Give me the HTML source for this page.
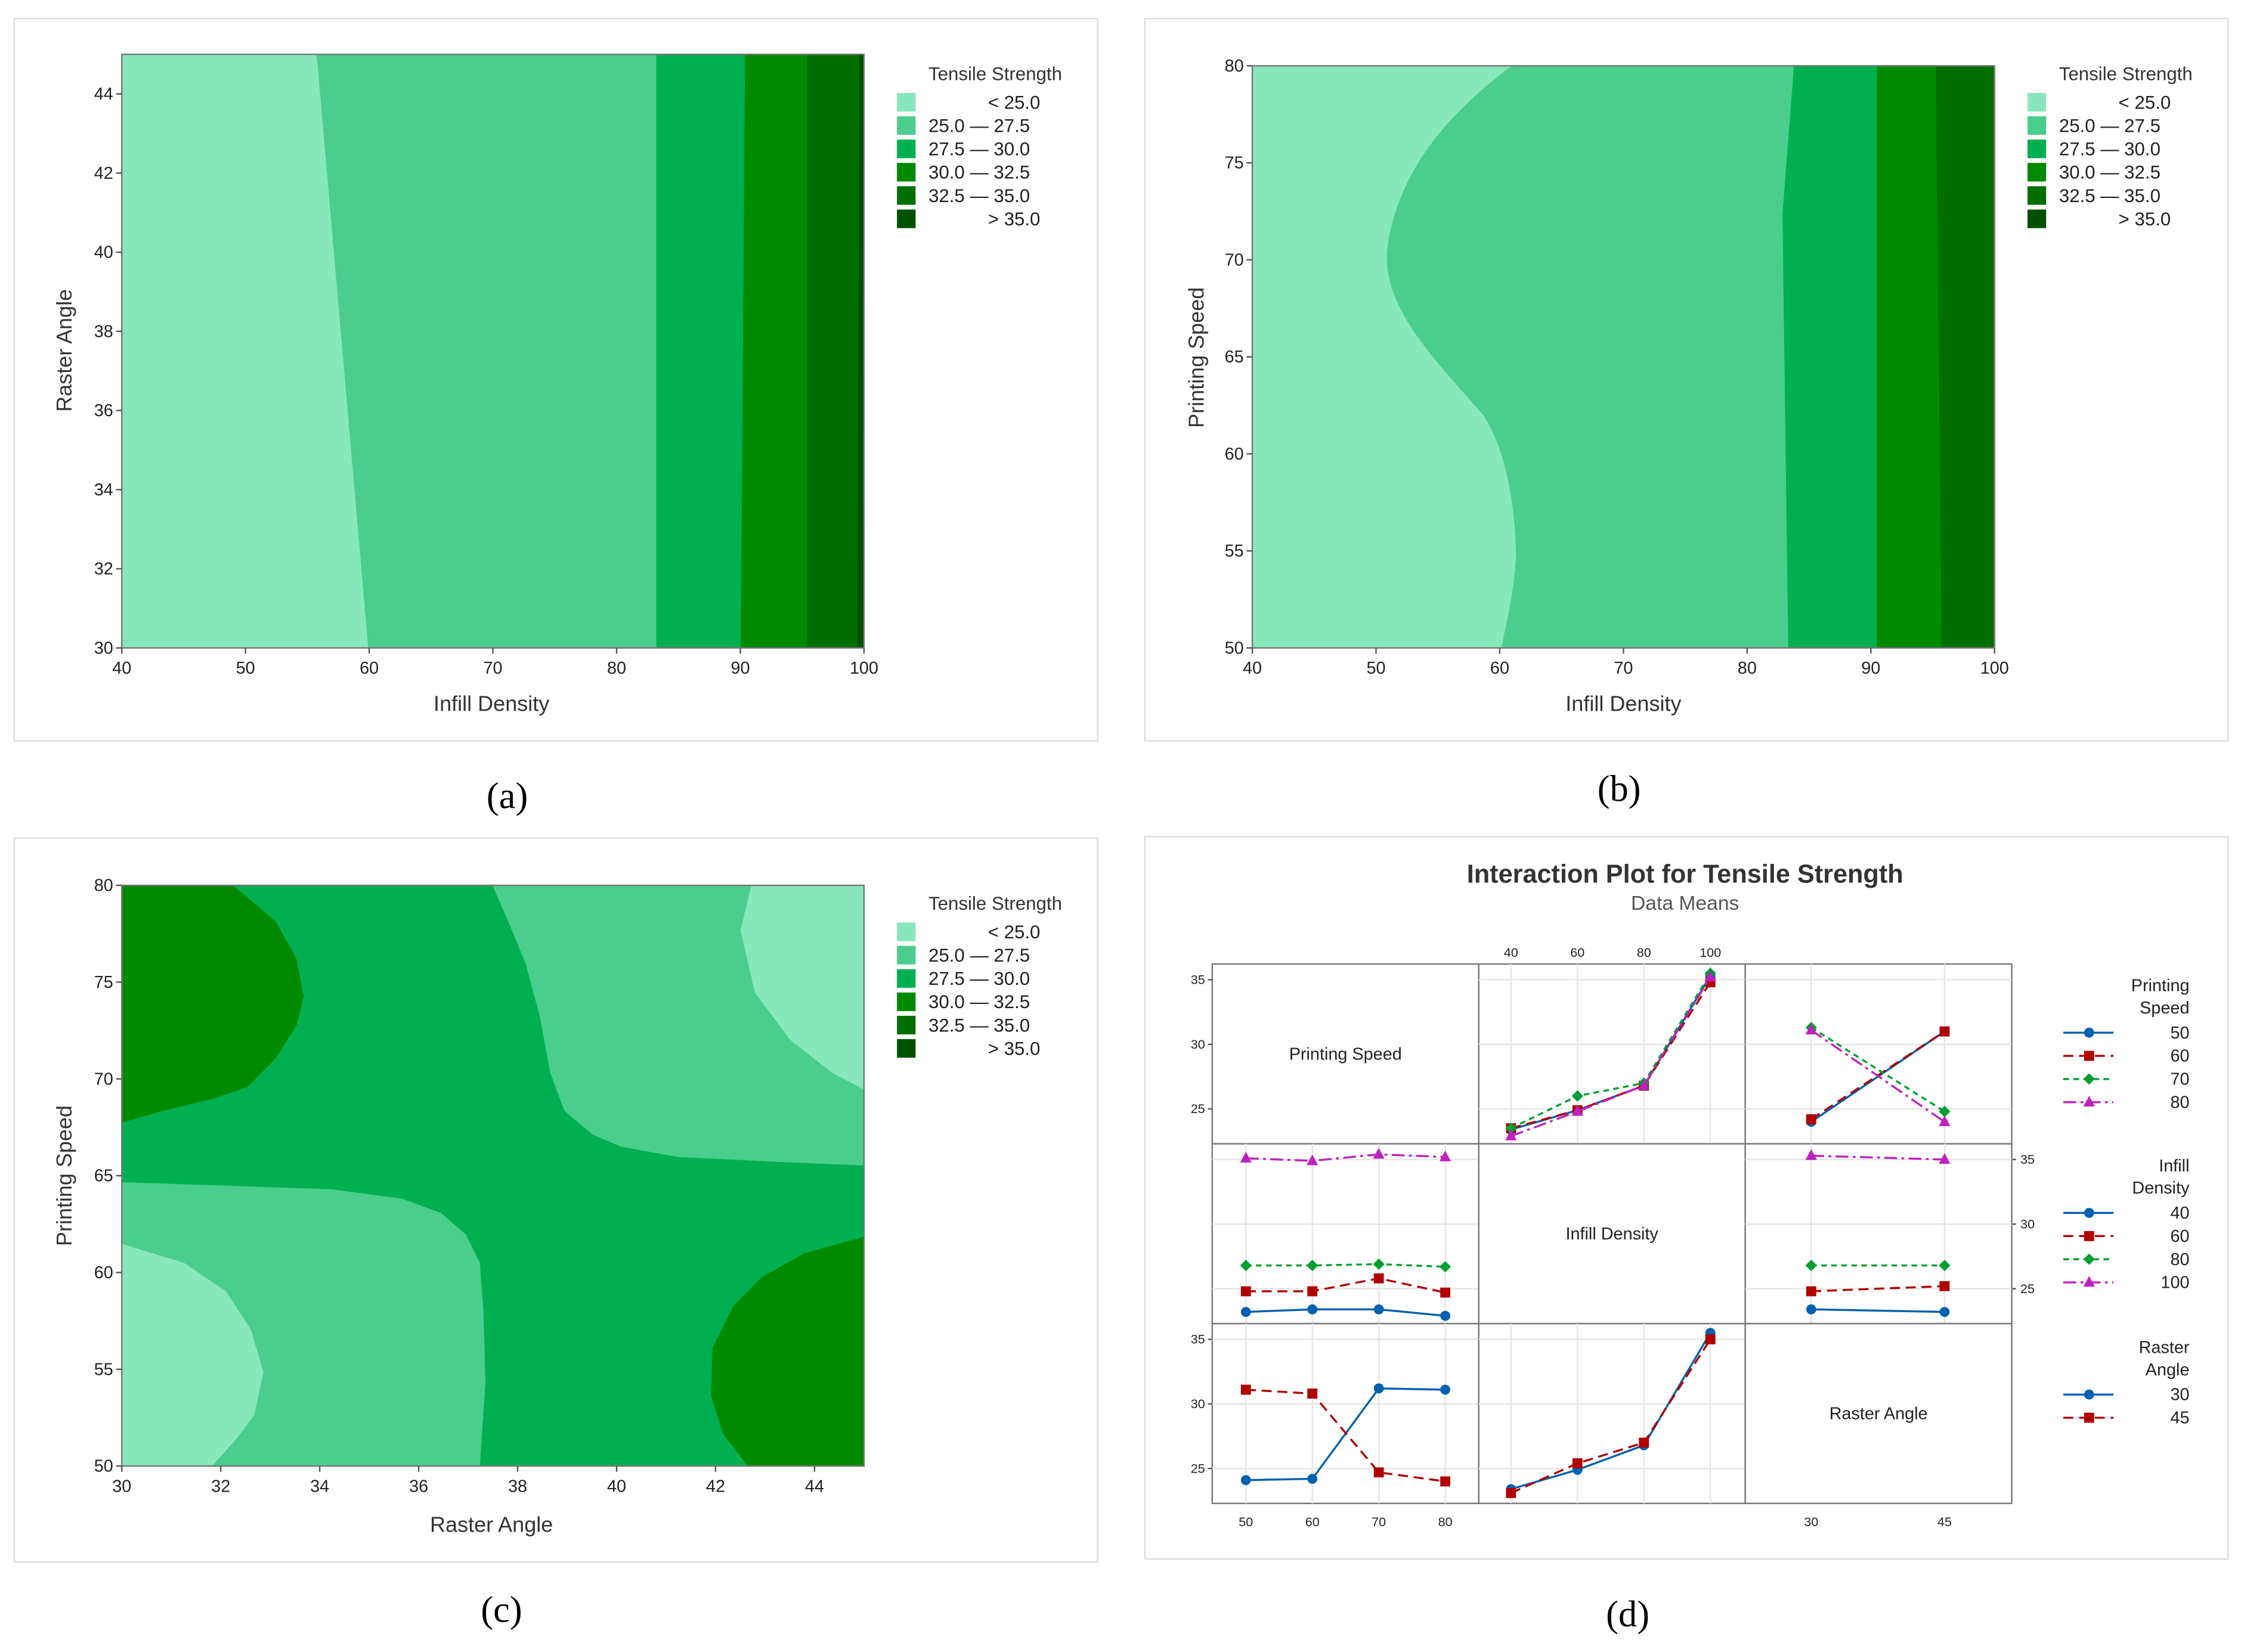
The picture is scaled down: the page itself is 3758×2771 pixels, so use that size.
<!DOCTYPE html>
<html><head><meta charset="utf-8"><style>
html,body{margin:0;padding:0;background:#fff}
svg{display:block;font-family:"Liberation Sans",sans-serif}
</style></head><body>
<svg id="root" width="3758" height="2771" viewBox="0 0 1564 1155" preserveAspectRatio="none" xmlns="http://www.w3.org/2000/svg">
<defs>
<clipPath id="ca"><rect x="85" y="38" width="518" height="415"/></clipPath>
<clipPath id="cb"><rect x="874" y="46" width="518" height="407"/></clipPath>
<clipPath id="cc"><rect x="85" y="619" width="518" height="406"/></clipPath>
</defs>
<rect width="1564" height="1155" fill="#fff"/>
<!-- Panel a -->
<g>
<rect x="10" y="13" width="756" height="505" fill="#fff" stroke="#ddd"/>
<g clip-path="url(#ca)">
<rect x="85" y="38" width="518" height="415" fill="#4bce8c"/>
<polygon points="85,38 221,38 257,453 85,453" fill="#89e7bd"/>
<polygon points="458,38 603,38 603,453 458,453" fill="#00b050"/>
<polygon points="520,38 603,38 603,453 517,453" fill="#008a00"/>
<polygon points="563,38 603,38 603,453 563,453" fill="#006f00"/>
<polygon points="600,38 603,38 603,453 598,453" fill="#005000"/>
</g>
<rect x="85" y="38" width="518" height="415" fill="none" stroke="#777"/>
<g id="axa" font-size="12" fill="#222"></g>
<text x="343" y="497" font-size="15" text-anchor="middle" fill="#333">Infill Density</text>
<text transform="translate(50,245) rotate(-90)" font-size="15" text-anchor="middle" fill="#333">Raster Angle</text>
<g id="lga"></g>
<text x="354" y="565" font-size="26" text-anchor="middle" font-family="Liberation Serif,serif">(a)</text>
</g>
<!-- Panel b -->
<g>
<rect x="799" y="13" width="756" height="505" fill="#fff" stroke="#ddd"/>
<g clip-path="url(#cb)">
<rect x="874" y="46" width="518" height="407" fill="#4bce8c"/>
<path d="M874,46 L1055,46 C1010,80 975,120 968,175 C965,215 1000,250 1035,290 C1055,320 1058,370 1058,390 C1056,420 1050,440 1048,453 L874,453 Z" fill="#89e7bd"/>
<path d="M1252,46 L1392,46 L1392,453 L1248,453 L1246,300 L1244,150 Z" fill="#00b050"/>
<path d="M1310,46 L1392,46 L1392,453 L1310,453 Z" fill="#008a00"/>
<path d="M1351,46 L1392,46 L1392,453 L1355,453 Z" fill="#006f00"/>
</g>
<rect x="874" y="46" width="518" height="407" fill="none" stroke="#777"/>
<g id="axb" font-size="12" fill="#222"></g>
<text x="1133" y="497" font-size="15" text-anchor="middle" fill="#333">Infill Density</text>
<text transform="translate(840,250) rotate(-90)" font-size="15" text-anchor="middle" fill="#333">Printing Speed</text>
<g id="lgb"></g>
<text x="1130" y="560" font-size="26" text-anchor="middle" font-family="Liberation Serif,serif">(b)</text>
</g>
<!-- Panel c -->
<g>
<rect x="10" y="586" width="756" height="506" fill="#fff" stroke="#ddd"/>
<g clip-path="url(#cc)">
<rect x="85" y="619" width="518" height="406" fill="#00b050"/>
<g transform="translate(85,619) scale(0.4919,0.332) translate(-172,-105)">
<path d="M698,105 L720,180 L745,270 L765,380 L780,500 L800,580 L840,630 L880,655 L960,677 L1100,687 L1225,695 L1225,105 Z" fill="#4bce8c"/>
<path d="M1065,105 L1050,200 L1070,330 L1120,430 L1180,500 L1225,535 L1225,105 Z" fill="#89e7bd"/>
<path d="M172,105 L330,105 L390,180 L420,260 L430,340 L420,400 L390,470 L350,530 L300,555 L230,580 L172,605 Z" fill="#008a00"/>
<path d="M172,730 L470,745 L570,765 L625,795 L660,840 L680,900 L685,1000 L688,1150 L680,1328 L172,1328 Z" fill="#4bce8c"/>
<path d="M172,860 L260,900 L320,960 L355,1040 L373,1130 L360,1220 L335,1270 L300,1328 L172,1328 Z" fill="#89e7bd"/>
<path d="M1225,845 L1140,880 L1080,930 L1040,990 L1010,1080 L1008,1180 L1025,1260 L1060,1328 L1225,1328 Z" fill="#008a00"/>
</g>
</g>
<rect x="85" y="619" width="518" height="406" fill="none" stroke="#777"/>
<g id="axc" font-size="12" fill="#222"></g>
<text x="343" y="1071" font-size="15" text-anchor="middle" fill="#333">Raster Angle</text>
<text transform="translate(50,822) rotate(-90)" font-size="15" text-anchor="middle" fill="#333">Printing Speed</text>
<g id="lgc"></g>
<text x="350" y="1134" font-size="26" text-anchor="middle" font-family="Liberation Serif,serif">(c)</text>
</g>
<!-- Panel d -->
<g>
<rect x="799" y="585" width="756" height="505" fill="#fff" stroke="#ddd"/>
<text x="1176" y="617" font-size="18" font-weight="bold" text-anchor="middle" fill="#333">Interaction Plot for Tensile Strength</text>
<text x="1176" y="636" font-size="14" text-anchor="middle" fill="#555">Data Means</text>
<g id="pd"></g>
<text x="1136" y="1137" font-size="26" text-anchor="middle" font-family="Liberation Serif,serif">(d)</text>
</g>
</svg>
<script>
// ---- contour legend & axes data ----
const legendLabels = ["< 25.0","25.0 — 27.5","27.5 — 30.0","30.0 — 32.5","32.5 — 35.0","> 35.0"];
const legendColors = ["#89e7bd","#4bce8c","#00b050","#008a00","#006f00","#005000"];
const infillTicks = [40,50,60,70,80,90,100];
const rasterTicksA = [30,32,34,36,38,40,42,44];
const speedTicks = [50,55,60,65,70,75,80];
const rasterTicksC = [30,32,34,36,38,40,42,44];

// ---- interaction plot data ----
const speedLevels = [50,60,70,80];
const infillLevels = [40,60,80,100];
const rasterLevels = [30,45];
// Row1 col2: x=infill, series=speed
const r1c2_s50 = [23.4,24.9,26.8,35.3];
const r1c2_s60 = [23.5,24.9,26.8,34.8];
const r1c2_s70 = [23.5,26.0,27.0,35.5];
const r1c2_s80 = [22.9,24.8,26.8,35.2];
// Row1 col3: x=raster, series=speed
const r1c3_s50 = [24.0,31.0];
const r1c3_s60 = [24.2,31.0];
const r1c3_s70 = [31.3,24.8];
const r1c3_s80 = [31.1,24.0];
// Row2 col1: x=speed, series=infill
const r2c1_i40 = [23.2,23.4,23.4,22.9];
const r2c1_i60 = [24.8,24.8,25.8,24.7];
const r2c1_i80 = [26.8,26.8,26.9,26.7];
const r2c1_i100 = [35.1,34.9,35.4,35.2];
// Row2 col3: x=raster, series=infill
const r2c3_i40 = [23.4,23.2];
const r2c3_i60 = [24.8,25.2];
const r2c3_i80 = [26.8,26.8];
const r2c3_i100 = [35.3,35.0];
// Row3 col1: x=speed, series=raster
const r3c1_r30 = [24.1,24.2,31.2,31.1];
const r3c1_r45 = [31.1,30.8,24.7,24.0];
// Row3 col2: x=infill, series=raster
const r3c2_r30 = [23.4,24.9,26.8,35.5];
const r3c2_r45 = [23.1,25.4,27.0,35.0];
const yTicksD = [25,30,35];

const NS="http://www.w3.org/2000/svg";
function mk(tag,attrs,parent,txt){const e=document.createElementNS(NS,tag);for(const k in attrs)e.setAttribute(k,attrs[k]);if(txt!==undefined)e.textContent=txt;parent.appendChild(e);return e;}

function contourAxes(gid,x0,x1,y0,y1,xt,xmin,xmax,yt,ymin,ymax){
  const g=document.getElementById(gid);
  xt.forEach(v=>{const x=x0+(v-xmin)/(xmax-xmin)*(x1-x0);
    const l=mk('line',{x1:x,x2:x,y1:y1,y2:y1+4,stroke:'#555'},g);
    
    const t=mk('text',{x:x,y:y1+18,'text-anchor':'middle'},g,v);
    });
  yt.forEach(v=>{const y=y1-(v-ymin)/(ymax-ymin)*(y1-y0);
    const l=mk('line',{x1:x0-4,x2:x0,y1:y,y2:y,stroke:'#555'},g);
    
    const t=mk('text',{x:x0-6,y:y+4,'text-anchor':'end'},g,v);
    });
}
contourAxes('axa',85,603,38,453,infillTicks,40,100,rasterTicksA,30,45);
contourAxes('axb',874,1392,46,453,infillTicks,40,100,speedTicks,50,80);
contourAxes('axc',85,603,619,1025,rasterTicksC,30,45,speedTicks,50,80);

function contourLegend(gid,sx,ty){
  const g=document.getElementById(gid);
  
  mk('text',{x:sx+22,y:ty,'font-size':13,fill:'#333'},g,'Tensile Strength');
  legendLabels.forEach((lab,i)=>{const y=ty+15+i*16.3;
    const r=mk('rect',{x:sx,y:y-6,width:13,height:13,fill:legendColors[i]},g);
    
    const t=(i==0||i==5)?mk('text',{x:sx+100,y:y+5,'font-size':13,'text-anchor':'end',fill:'#222'},g,lab):mk('text',{x:sx+22,y:y+5,'font-size':13,fill:'#222'},g,lab);
    });
}
contourLegend('lga',626,56);
contourLegend('lgb',1415,56);
contourLegend('lgc',626,636);

// ---- panel d ----
const pd=document.getElementById('pd');
const GX=846,GY=674,CW=186,CH=125.7;
const st=[{c:'#0060b0',d:'',m:'circle'},{c:'#b00000',d:'7,4',m:'square'},{c:'#00a030',d:'4,3',m:'diamond'},{c:'#c020c0',d:'9,3,2,3',m:'tri'}];
function colX(col,v){
  if(col==0) return GX+ (141-93)*0.4899 + (v-50)/30*(425-141)*0.4899;
  if(col==1) return GX+CW+(519-473)*0.4899 + (v-40)/60*(803-519)*0.4899;
  return GX+2*CW+(947-853)*0.4899 + (v-30)/15*(1137-947)*0.4899;
}
function rowY(row,v){return GY+row*CH+11+(35-v)*9.03;}
// grid cells
for(let r=0;r<3;r++)for(let c=0;c<3;c++){
  const cell=mk('rect',{x:GX+c*CW,y:GY+r*CH,width:CW,height:CH,fill:'#fff',stroke:'#777'},pd);
  
  if(r===c) continue;
  const lv=c==0?speedLevels:c==1?infillLevels:rasterLevels;
  lv.forEach(v=>{const x=colX(c,v);const gl=mk('line',{x1:x,x2:x,y1:GY+r*CH,y2:GY+(r+1)*CH,stroke:'#e6e6e6'},pd);
    });
  yTicksD.forEach(v=>{const y=rowY(r,v);const gl=mk('line',{x1:GX+c*CW,x2:GX+(c+1)*CW,y1:y,y2:y,stroke:'#e6e6e6'},pd);
    });
}
// diagonal labels
[['Printing Speed',0],['Infill Density',1],['Raster Angle',2]].forEach(([t,i])=>{
  const e=mk('text',{x:GX+i*CW+CW/2,y:GY+i*CH+CH/2+4,'font-size':12,'text-anchor':'middle',fill:'#222'},pd,t);
  });
// axis labels
[0,2].forEach(r=>yTicksD.forEach(v=>{const y=rowY(r,v);
  mk('line',{x1:GX-3,x2:GX,y1:y,y2:y,stroke:'#555'},pd);
  const t=mk('text',{x:GX-5,y:y+3,'font-size':9,'text-anchor':'end',fill:'#222'},pd,v);
  }));
yTicksD.forEach(v=>{const y=rowY(1,v);
  mk('line',{x1:GX+3*CW,x2:GX+3*CW+3,y1:y,y2:y,stroke:'#555'},pd);
  const t=mk('text',{x:GX+3*CW+6,y:y+3,'font-size':9,fill:'#222'},pd,v);
  });
infillLevels.forEach(v=>{const t=mk('text',{x:colX(1,v),y:GY-5,'font-size':9,'text-anchor':'middle',fill:'#222'},pd,v);
  });
speedLevels.forEach(v=>{const t=mk('text',{x:colX(0,v),y:GY+3*CH+16,'font-size':9,'text-anchor':'middle',fill:'#222'},pd,v);
  });
rasterLevels.forEach(v=>{const t=mk('text',{x:colX(2,v),y:GY+3*CH+16,'font-size':9,'text-anchor':'middle',fill:'#222'},pd,v);
  });

function marker(g,x,y,s){
  let e;
  if(s.m=='circle') e=mk('circle',{cx:x,cy:y,r:3.5,fill:s.c},g);
  else if(s.m=='square') e=mk('rect',{x:x-3.5,y:y-3.5,width:7,height:7,fill:s.c},g);
  else if(s.m=='diamond') e=mk('polygon',{points:`${x},${y-4} ${x+4},${y} ${x},${y+4} ${x-4},${y}`,fill:s.c},g);
  else e=mk('polygon',{points:`${x},${y-4.5} ${x+4},${y+3} ${x-4},${y+3}`,fill:s.c},g);
  
}
function series(row,col,xs,vals,s,name){
  const g=mk('g',{},pd);
  
  const pts=xs.map((x,i)=>colX(col,x)+','+rowY(row,vals[i])).join(' ');
  const l=mk('polyline',{points:pts,fill:'none',stroke:s.c,'stroke-width':1.4,'stroke-dasharray':s.d},g);
  
  xs.forEach((x,i)=>marker(g,colX(col,x),rowY(row,vals[i]),s));
}
series(0,1,infillLevels,r1c2_s50,st[0],'series-speed-50');
series(0,1,infillLevels,r1c2_s60,st[1],'series-speed-60');
series(0,1,infillLevels,r1c2_s70,st[2],'series-speed-70');
series(0,1,infillLevels,r1c2_s80,st[3],'series-speed-80');
series(0,2,rasterLevels,r1c3_s50,st[0],'series-speed-50');
series(0,2,rasterLevels,r1c3_s60,st[1],'series-speed-60');
series(0,2,rasterLevels,r1c3_s70,st[2],'series-speed-70');
series(0,2,rasterLevels,r1c3_s80,st[3],'series-speed-80');
series(1,0,speedLevels,r2c1_i40,st[0],'series-infill-40');
series(1,0,speedLevels,r2c1_i60,st[1],'series-infill-60');
series(1,0,speedLevels,r2c1_i80,st[2],'series-infill-80');
series(1,0,speedLevels,r2c1_i100,st[3],'series-infill-100');
series(1,2,rasterLevels,r2c3_i40,st[0],'series-infill-40');
series(1,2,rasterLevels,r2c3_i60,st[1],'series-infill-60');
series(1,2,rasterLevels,r2c3_i80,st[2],'series-infill-80');
series(1,2,rasterLevels,r2c3_i100,st[3],'series-infill-100');
series(2,0,speedLevels,r3c1_r30,st[0],'series-raster-30');
series(2,0,speedLevels,r3c1_r45,st[1],'series-raster-45');
series(2,1,infillLevels,r3c2_r30,st[0],'series-raster-30');
series(2,1,infillLevels,r3c2_r45,st[1],'series-raster-45');

// legends d
function dLegend(title,ty,labels){
  const g=mk('g',{},pd);
  
  title.forEach((t,i)=>mk('text',{x:1528,y:ty+i*15.5,'font-size':12,'text-anchor':'end',fill:'#222'},g,t));
  labels.forEach((lab,i)=>{const y=ty+title.length*15.5+2+i*16.2;const s=st[i];
    const ln=mk('line',{x1:1440,x2:1475,y1:y-4,y2:y-4,stroke:s.c,'stroke-width':1.4,'stroke-dasharray':s.d},g);
    
    marker(g,1458,y-4,s);
    const t=mk('text',{x:1528,y:y,'font-size':12,'text-anchor':'end',fill:'#222'},g,lab);
    });
}
dLegend(['Printing','Speed'],693,speedLevels);
dLegend(['Infill','Density'],819,infillLevels);
dLegend(['Raster','Angle'],946,rasterLevels);
</script>
</body></html>
